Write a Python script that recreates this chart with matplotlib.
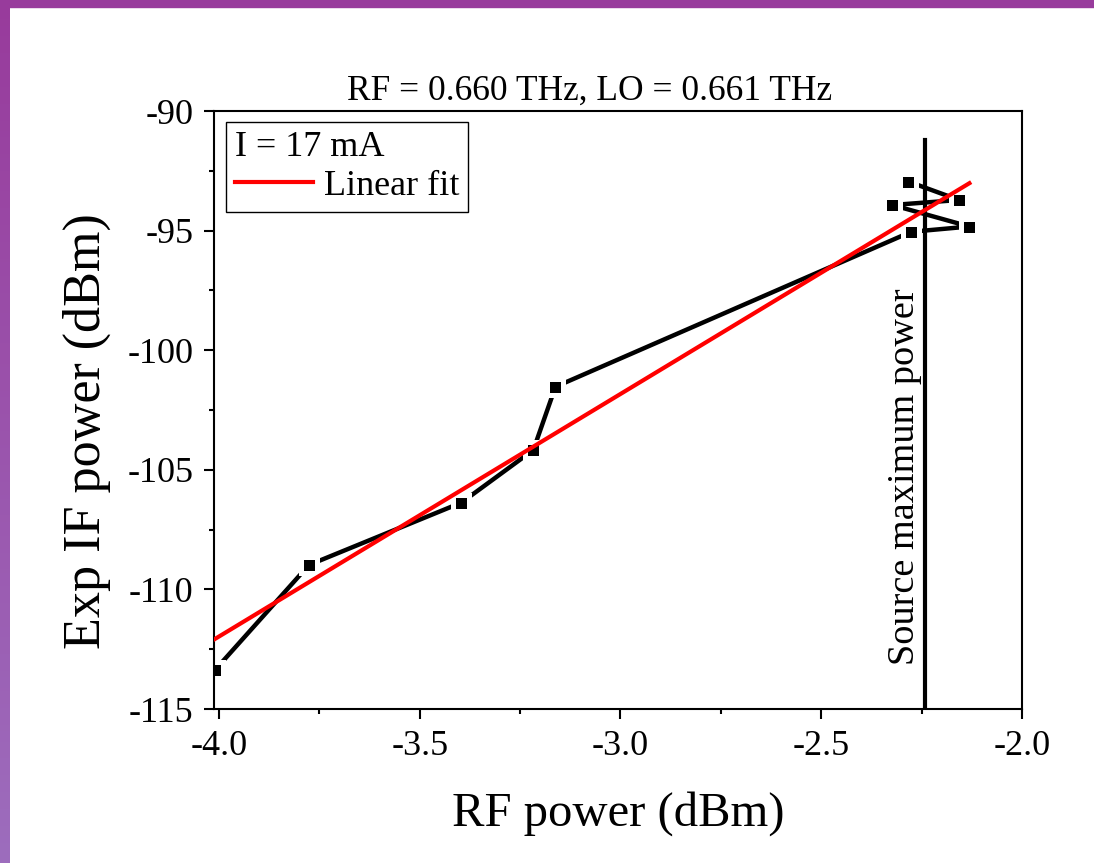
# %% imports
import numpy as np
import matplotlib as mpl
mpl.use('Agg')
import matplotlib.pyplot as plt
from matplotlib.patches import Rectangle
from matplotlib.colors import LinearSegmentedColormap
from matplotlib.ticker import MultipleLocator, FormatStrFormatter

plt.rcParams['font.family'] = ['Liberation Serif', 'DejaVu Serif']
plt.rcParams['axes.unicode_minus'] = False

# %% data
rf_power = [-4.01, -3.776, -3.396, -3.217, -3.162, -2.276, -2.131, -2.323, -2.157, -2.283]
if_power = [-113.37, -108.98, -106.37, -104.17, -101.53, -95.05, -94.83, -93.93, -93.72, -92.95]
fit_slope = 10.14
fit_intercept = -71.41
src_max_x = -2.241
src_line_top = -91.2
title_text = 'RF = 0.660 THz, LO = 0.661 THz'
legend_title = 'I = 17 mA'
x_ticks = [-4.0, -3.5, -3.0, -2.5, -2.0]
y_ticks = [-115, -110, -105, -100, -95, -90]

# %% figure
W, H = 1094, 863
fig = plt.figure(figsize=(W / 100, H / 100), dpi=100)
ax = fig.add_axes([214 / W, 1 - 709 / H, (1022 - 214) / W, (709 - 111) / H])

# purple frame of the slide
fig.patches.append(Rectangle((0, 1 - 7 / H), 1, 7 / H, transform=fig.transFigure,
                             color='#983b9c', zorder=10))
bar = fig.add_axes([0, 0, 10 / W, 1])
cmap = LinearSegmentedColormap.from_list('frame', ['#9d6dbd', '#983b9c'])
bar.imshow(np.linspace(0, 1, 256)[:, None], aspect='auto', cmap=cmap, origin='lower')
bar.axis('off')

# measured points, line broken round the markers (white halo)
ax.plot(rf_power, if_power, color='black', lw=3.2, zorder=2)
ax.plot(rf_power, if_power, ls='none', marker='s', ms=12, mfc='black',
        mec='white', mew=3.6, zorder=2.5)

# source maximum power
ax.plot([src_max_x, src_max_x], [-115, src_line_top], color='black', lw=3, zorder=3)
ax.text(src_max_x - 0.052, -105.3, 'Source maximum power', rotation=90,
        ha='center', va='center', fontsize=27.5)

# linear fit
xf = np.array([min(rf_power), max(rf_power)])
ax.plot(xf, np.polyval([fit_slope, fit_intercept], xf), color='red', lw=3,
        zorder=4, label='Linear fit')

ax.set_xlim(-4.0124, -2.0)
ax.set_ylim(-115, -90)
ax.xaxis.set_minor_locator(MultipleLocator(0.25))
ax.yaxis.set_minor_locator(MultipleLocator(2.5))
ax.set_xticks(x_ticks)
ax.set_yticks(y_ticks)
ax.xaxis.set_major_formatter(FormatStrFormatter('%.1f'))
ax.yaxis.set_major_formatter(FormatStrFormatter('%d'))
ax.tick_params(which='major', direction='out', length=7, width=1.5, labelsize=26)
ax.tick_params(axis='x', which='major', pad=8)
ax.tick_params(axis='y', which='major', pad=8)
ax.tick_params(which='minor', direction='out', length=3.5, width=1.5)
for s in ax.spines.values():
    s.set_linewidth(1.5)

ax.set_xlabel('RF power (dBm)', fontsize=35, labelpad=20)
ax.set_ylabel('Exp IF power (dBm)', fontsize=37.5)
ax.yaxis.set_label_coords(-0.128, 0.465)
ax.text(0.465, 1 + 11 / 598, title_text, transform=ax.transAxes,
        ha='center', va='baseline', fontsize=25.5)

leg = ax.legend(title=legend_title, loc='upper left', bbox_to_anchor=(0.0149, 0.9816),
                borderaxespad=0, fontsize=26, title_fontsize=26, alignment='left',
                fancybox=False, framealpha=1, edgecolor='black', labelspacing=0.15,
                handlelength=2.15, handletextpad=0.3, borderpad=0.25)
leg.get_frame().set_linewidth(1)

fig.savefig('out.png', dpi=100)
